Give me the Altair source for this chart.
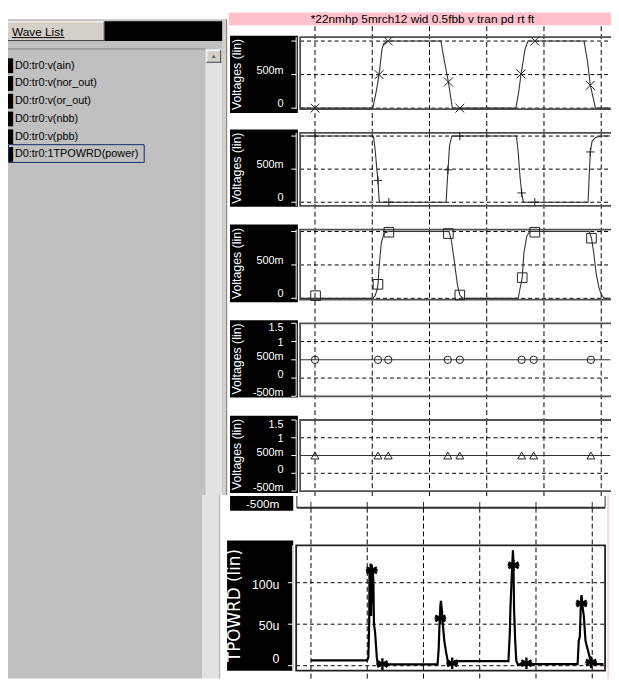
import altair as alt
import pandas as pd

FONT = "Liberation Sans"

# ---------------- text content ----------------
title_text = "*22nmhp  5mrch12 wid  0.5fbb v  tran  pd  rt  ft"
wave_list_label = "Wave List"
wave_names = ["D0:tr0:v(ain)", "D0:tr0:v(nor_out)", "D0:tr0:v(or_out)",
              "D0:tr0:v(nbb)", "D0:tr0:v(pbb)", "D0:tr0:1TPOWRD(power)"]
volt_title = "Voltages (lin)"
power_title = "TPOWRD (lin)"
strip_label = "-500m"

# ---------------- axes ----------------
grid_t = [0, 1, 2, 3, 4, 5]
volt_ticks = [1, 0.5, 0]
volt_tick_labels = ["", "500m", "0"]
volt_ticks_wide = [1.5, 1, 0.5, 0, -0.5]
volt_tick_labels_wide = ["1.5", "1", "500m", "0", "-500m"]
power_ticks = [100, 50, 0]
power_tick_labels = ["100u", "50u", "0"]

# ---------------- series ----------------
ain_t = [-0.26, 1.01, 1.07, 1.12, 1.17, 1.20, 1.28, 2.20, 2.26, 2.33, 2.40, 3.51, 3.56,
         3.60, 3.67, 3.72, 4.70, 4.76, 4.81, 4.90, 5.16]
ain_v = [0, 0, 0.25, 0.5, 0.88, 0.96, 1.0, 1.0, 0.7, 0.39, 0.0, 0.0, 0.25,
         0.51, 0.88, 1.0, 1.0, 0.7, 0.34, 0.0, 0.0]
ain_mt = [0.0, 1.12, 1.28, 2.33, 2.53, 3.60, 3.84, 4.81]
ain_mv = [0.0, 0.5, 1.0, 0.39, 0.0, 0.51, 1.0, 0.34]

nor_t = [-0.26, 1.02, 1.05, 1.08, 1.10, 1.12, 1.14, 2.29, 2.31, 2.325, 2.35, 2.39,
         3.52, 3.55, 3.58, 3.61, 3.64, 4.77, 4.79, 4.81, 4.84, 4.90, 5.0, 5.16]
nor_v = [1, 1, 0.8, 0.5, 0.33, 0.03, 0, 0, 0.3, 0.5, 0.85, 1,
         1, 0.75, 0.4, 0.14, 0, 0, 0.4, 0.76, 0.92, 0.98, 1.0, 1.0]
nor_mt = [0.0, 1.10, 1.29, 2.32, 2.53, 3.61, 3.84, 4.81]
nor_mv = [1.0, 0.33, 0.0, 0.49, 1.0, 0.14, 0.0, 0.76]

or_t = [-0.26, 1.01, 1.05, 1.08, 1.10, 1.12, 1.16, 1.21, 1.29, 2.34, 2.38, 2.43, 2.49,
        2.53, 2.57, 2.63, 3.55, 3.58, 3.62, 3.65, 3.70, 3.75, 4.79, 4.83, 4.87, 4.91,
        4.96, 5.00, 5.05, 5.16]
or_v = [0, 0, 0.04, 0.12, 0.21, 0.48, 0.84, 0.98, 1, 1, 0.88, 0.58, 0.19,
        0.05, 0.01, 0, 0, 0.14, 0.31, 0.68, 0.93, 1, 1, 0.9, 0.68, 0.38,
        0.16, 0.06, 0, 0]
or_mt = [0.01, 1.10, 1.29, 2.33, 2.53, 3.62, 3.84, 4.83]
or_mv = [0.04, 0.21, 0.99, 0.97, 0.05, 0.31, 0.99, 0.9]

nbb_t = [-0.26, 5.16]
nbb_v = [0.5, 0.5]
nbb_mt = [0.0, 1.10, 1.28, 2.32, 2.53, 3.61, 3.82, 4.82]
nbb_mv = [0.5, 0.5, 0.5, 0.5, 0.5, 0.5, 0.5, 0.5]

pbb_t = [-0.26, 5.16]
pbb_v = [0.5, 0.5]
pbb_mt = [0.0, 1.10, 1.28, 2.32, 2.53, 3.61, 3.82, 4.82]
pbb_mv = [0.5, 0.5, 0.5, 0.5, 0.5, 0.5, 0.5, 0.5]

pw_t = [0.0, 1.00, 1.02, 1.035, 1.04, 1.05, 1.06, 1.07, 1.08, 1.09, 1.10, 1.11, 1.12,
        1.14, 1.17, 1.19, 1.24, 1.30,
        2.25, 2.27, 2.285, 2.30, 2.31, 2.33, 2.35, 2.37, 2.40, 2.43, 2.46, 2.52, 2.56,
        3.51, 3.535, 3.545, 3.57, 3.59, 3.60, 3.61, 3.63, 3.65, 3.68, 3.72,
        4.74, 4.76, 4.78, 4.80, 4.81, 4.83, 4.85, 4.88, 4.91, 4.94, 4.97, 5.00, 5.20]
pw_v = [6.5, 6.5, 10, 50, 115, 70, 123, 60, 120, 75, 118, 100, 50,
        40, 10, 0.5, 1, 1.5,
        1.5, 20, 50, 72, 78, 65, 45, 30, 17, 6, 1, 2, 5.5,
        5.5, 40, 68, 110, 139, 120, 68, 30, 6, 1, 2,
        2, 30, 35, 80, 85, 70, 60, 30, 22, 14, 6, 2, 2]
pw_mt = [1.08, 1.27, 2.30, 2.51, 3.60, 3.83, 4.81, 4.98]
pw_mv = [115, 2, 57, 3, 121, 3, 75, 4]

# ---------------- helpers ----------------
one = pd.DataFrame({"k": [0]})


def rect(x, x2, y, y2, **mk):
    return alt.Chart(one).mark_rect(**mk).encode(
        x=alt.value(x), x2=alt.value(x2), y=alt.value(y), y2=alt.value(y2))


def hrule(x, x2, y, **mk):
    return alt.Chart(one).mark_rule(**mk).encode(
        x=alt.value(x), x2=alt.value(x2), y=alt.value(y))


def vrule(x, y, y2, **mk):
    return alt.Chart(one).mark_rule(**mk).encode(
        x=alt.value(x), y=alt.value(y), y2=alt.value(y2))


def label(x, y, text, **mk):
    return alt.Chart(one).mark_text(**mk).encode(
        x=alt.value(x), y=alt.value(y), text=alt.value(text))


CW, CH = 611, 675          # whole chart
OX = 296                   # left edge of the plot frames
W = 314                    # plot width
X_TOP = alt.Scale(domain=[-0.26, -0.26 + W / 58.0], range=[OX, OX + W], nice=False, zero=False)
X_BOT = alt.Scale(domain=[-11 / 57.0, (W - 11) / 57.0], range=[OX, OX + W], nice=False, zero=False)

X_SHAPE = "M-1,-1L1,1M-1,1L1,-1"
PLUS_SHAPE = "M-1,0L1,0M0,-1L0,1"
STAR_SHAPE = "M0,-1L0,1M-0.87,-0.5L0.87,0.5M-0.87,0.5L0.87,-0.5M-1,0L1,0"


def yaxis_layers(ys, ticks, labs, dom_x, tick_len, lab_x, font_size, oy, h, default_dy, special):
    tdf = pd.DataFrame({"v": ticks, "lab": labs})
    Y = alt.Y("v:Q", scale=ys, axis=None)
    out = [
        vrule(dom_x, oy, oy + h, color="white", strokeWidth=1),
        alt.Chart(tdf).mark_rule(color="white", strokeWidth=1).encode(
            x=alt.value(dom_x - tick_len), x2=alt.value(dom_x), y=Y),
    ]
    normal = alt.Chart(tdf).transform_filter("datum.lab != ''")
    for sv, sdy in (special or {}).items():
        normal = normal.transform_filter(f"datum.v != {sv}")
        out.append(alt.Chart(tdf).transform_filter(f"datum.v == {sv}").mark_text(
            font=FONT, fontSize=font_size, color="white", align="right",
            baseline="middle", dy=sdy).encode(x=alt.value(lab_x), y=Y, text="lab:N"))
    out.append(normal.mark_text(font=FONT, fontSize=font_size, color="white",
                                align="right", baseline="middle", dy=default_dy).encode(
        x=alt.value(lab_x), y=Y, text="lab:N"))
    return out


def volt_panel(oy, h, dom, t, v, mt, mv, shape, msize, box, ticks, labs, hgrid,
               vtop, vbot, default_dy, special=None):
    ys = alt.Scale(domain=dom, range=[oy + h, oy], nice=False, zero=False)
    X = alt.X("t:Q", scale=X_TOP, axis=None)
    Y = alt.Y("v:Q", scale=ys, axis=None)
    layers = [
        rect(OX - 71, OX - 2.3, oy + box[0], oy + box[1], color="black"),
        label(OX - 63.5, oy + (box[0] + box[1]) / 2, volt_title, angle=270, color="white",
              font=FONT, fontSize=12.5, align="center", baseline="middle"),
        alt.Chart(pd.DataFrame({"v": hgrid})).mark_rule(
            color="black", strokeDash=[4, 3], strokeWidth=1).encode(
            x=alt.value(OX), x2=alt.value(CW), y=Y),
        alt.Chart(pd.DataFrame({"t": grid_t})).mark_rule(
            color="black", strokeDash=[5, 3], strokeWidth=1).encode(
            x=X, y=alt.value(oy + vtop), y2=alt.value(oy + vbot)),
        rect(OX, CW + 6, oy, oy + h, fill="transparent", stroke="#505050", strokeWidth=1.8),
        alt.Chart(pd.DataFrame({"t": t, "v": v})).mark_line(
            color="#333333", strokeWidth=1.1).encode(x=X, y=Y),
        alt.Chart(pd.DataFrame({"t": mt, "v": mv})).mark_point(
            shape=shape, size=msize, filled=False, color="#222222",
            strokeWidth=1, opacity=1).encode(x=X, y=Y),
    ]
    layers += yaxis_layers(ys, ticks, labs, OX - 4, 5, OX - 16.7, 11, oy, h, default_dy, special)
    return layers


# ---------------- left wave list ----------------
ITEM_Y = alt.Scale(domain=[0, len(wave_names) - 1], range=[54, 144], nice=False, zero=False)
items = pd.DataFrame({"i": list(range(len(wave_names))), "name": wave_names})

layers = [
    rect(0, 222, 7, 489, color="#c0c0c0"),
    rect(200, 217, 37, 489, color="#e2e2e2"),
    rect(217, 222, 7, 489, color="#d4d0c8"),
    vrule(221.5, 7, 489, color="#808080"),
    # Wave List button
    rect(0, 98, 9, 29, color="#d4d0c8"),
    hrule(0, 98, 9.5, color="white"),
    hrule(0, 98, 28.5, color="#404040"),
    vrule(97.5, 9, 29, color="#404040"),
    rect(98, 217, 9, 29, color="black"),
    label(4, 20, wave_list_label, font=FONT, fontSize=12, color="black",
          align="left", baseline="middle"),
    hrule(4, 57, 25.5, color="black"),
    # list box border
    hrule(0, 200, 37, color="#808080"),
    # scroll up button
    rect(201, 216, 38, 51, color="#d4d0c8"),
    hrule(201, 216, 38.5, color="white"),
    vrule(201.5, 38, 51, color="white"),
    hrule(201, 216, 50.5, color="#404040"),
    vrule(215.5, 38, 51, color="#404040"),
    alt.Chart(one).mark_point(shape="triangle-up", size=16, filled=True,
                              color="#606060", opacity=1).encode(
        x=alt.value(208.5), y=alt.value(44.5)),
    # items
    alt.Chart(items).mark_point(shape="M-0.35,-1H0.35V1H-0.35Z", size=225,
                                filled=True, color="black", opacity=1).encode(
        x=alt.value(2.6), y=alt.Y("i:Q", scale=ITEM_Y, axis=None)),
    alt.Chart(items).mark_text(font=FONT, fontSize=11, color="black",
                               align="left", baseline="middle").encode(
        x=alt.value(7), y=alt.Y("i:Q", scale=ITEM_Y, axis=None), text="name:N"),
    rect(0.5, 138, 134, 152, fill="transparent", stroke="#1a2a6a", strokeWidth=1),
    # bottom window left area
    rect(0, 197, 489, CH, color="#c0c0c0"),
    rect(197, 214, 489, CH, color="#e2e2e2"),
    vrule(214.5, 489, CH, color="#a0a0a0"),
    # thin pink edge of the bottom window
    vrule(608, 489, CH, color="#f2b8c0", strokeWidth=1),
]

# ---------------- pink title bar ----------------
layers += [
    rect(OX - 72, CW, 0, 13, color="#ffc0cb"),
    label(OX + 124, 6.5, title_text, font=FONT, fontSize=12, color="black",
          align="center", baseline="middle"),
]

# ---------------- voltage panels ----------------
layers += volt_panel(25, 73, [-0.015, 1.059], ain_t, ain_v, ain_mt, ain_mv, X_SHAPE, 81,
                     (-1.3, 77), volt_ticks, volt_tick_labels, [1, 0.5, 0], -11, 97, -4)
layers += volt_panel(122, 74, [-0.055, 1.049], nor_t, nor_v, nor_mt, nor_mv, PLUS_SHAPE, 72,
                     (-3.3, 75), volt_ticks, volt_tick_labels, [1, 0.5, 0], 0, 98, -4)
layers += volt_panel(220, 71, [-0.019, 1.03], or_t, or_v, or_mt, or_mv, "square", 95,
                     (-5, 73.7), volt_ticks, volt_tick_labels, [1, 0.5, 0], 0, 95, -4)
layers += volt_panel(315, 74, [-0.5, 1.5], nbb_t, nbb_v, nbb_mt, nbb_mv, "circle", 56,
                     (-3, 75.3), volt_ticks_wide, volt_tick_labels_wide, [1, 0], 0, 98, -3,
                     special={1.5: 5, 1: 1})
layers += volt_panel(413, 72, [-0.5, 1.5], pbb_t, pbb_v, pbb_mt, pbb_mv, "triangle-up", 64,
                     (-4.3, 74), volt_ticks_wide, volt_tick_labels_wide, [1, 0], 0, 77, -3,
                     special={1.5: 5, 1: 1})

# ---------------- power panel (bottom window) ----------------
OY6, H6 = 540, 127
Y_PW = alt.Scale(domain=[-6, 145], range=[OY6 + H6, OY6], nice=False, zero=False)
XB = alt.X("t:Q", scale=X_BOT, axis=None)
YP = alt.Y("v:Q", scale=Y_PW, axis=None)
layers += [
    rect(OX - 71, OX - 7, OY6 - 50, OY6 - 35, color="black"),
    label(OX - 21, OY6 - 42, strip_label, font=FONT, fontSize=12, color="white",
          align="right", baseline="middle"),
    vrule(OX - 3.3, OY6 - 50, OY6 - 38, color="#303030", strokeWidth=1),
    vrule(OX + 309, OY6 - 50, OY6 - 38, color="#303030", strokeWidth=1),
    hrule(OX - 3.3, OX + 309, OY6 - 38, color="#303030", strokeWidth=2),
    alt.Chart(pd.DataFrame({"t": grid_t})).mark_rule(color="#303030", strokeWidth=1).encode(
        x=XB, y=alt.value(OY6 - 44), y2=alt.value(OY6 - 38)),
    rect(OX - 74, OX - 7, OY6 - 5, OY6 + H6, color="black"),
    label(OX - 66, OY6 + 61, power_title, angle=270, color="white", font="DejaVu Sans",
          fontSize=17, align="center", baseline="middle"),
    alt.Chart(pd.DataFrame({"v": power_ticks})).mark_rule(
        color="black", strokeDash=[4, 3], strokeWidth=1).encode(
        x=alt.value(OX - 4), x2=alt.value(OX + 309), y=YP),
    alt.Chart(pd.DataFrame({"t": grid_t})).mark_rule(
        color="black", strokeDash=[5, 3], strokeWidth=1).encode(
        x=XB, y=alt.value(OY6 - 38), y2=alt.value(CH)),
    rect(OX - 4, OX + 309, OY6, OY6 + H6, fill="transparent", stroke="#202020", strokeWidth=1.8),
    alt.Chart(pd.DataFrame({"t": pw_t, "v": pw_v})).mark_line(
        color="black", strokeWidth=2.2).encode(x=XB, y=YP),
    alt.Chart(pd.DataFrame({"t": pw_mt, "v": pw_mv})).mark_point(
        shape=STAR_SHAPE, size=140, filled=False, color="black",
        strokeWidth=2.4, opacity=1).encode(x=XB, y=YP),
]
layers += yaxis_layers(Y_PW, power_ticks, power_tick_labels, OX - 7.5, 5, OX - 21, 12.5,
                       OY6, H6, 2, special={0: -7})

chart = alt.layer(*layers).resolve_scale(x="independent", y="independent").properties(
    width=CW, height=CH, padding=0, autosize=alt.AutoSizeParams(type="none")
).configure_view(stroke="transparent")

chart.save("out.html", embed_options={"renderer": "svg", "actions": False})
